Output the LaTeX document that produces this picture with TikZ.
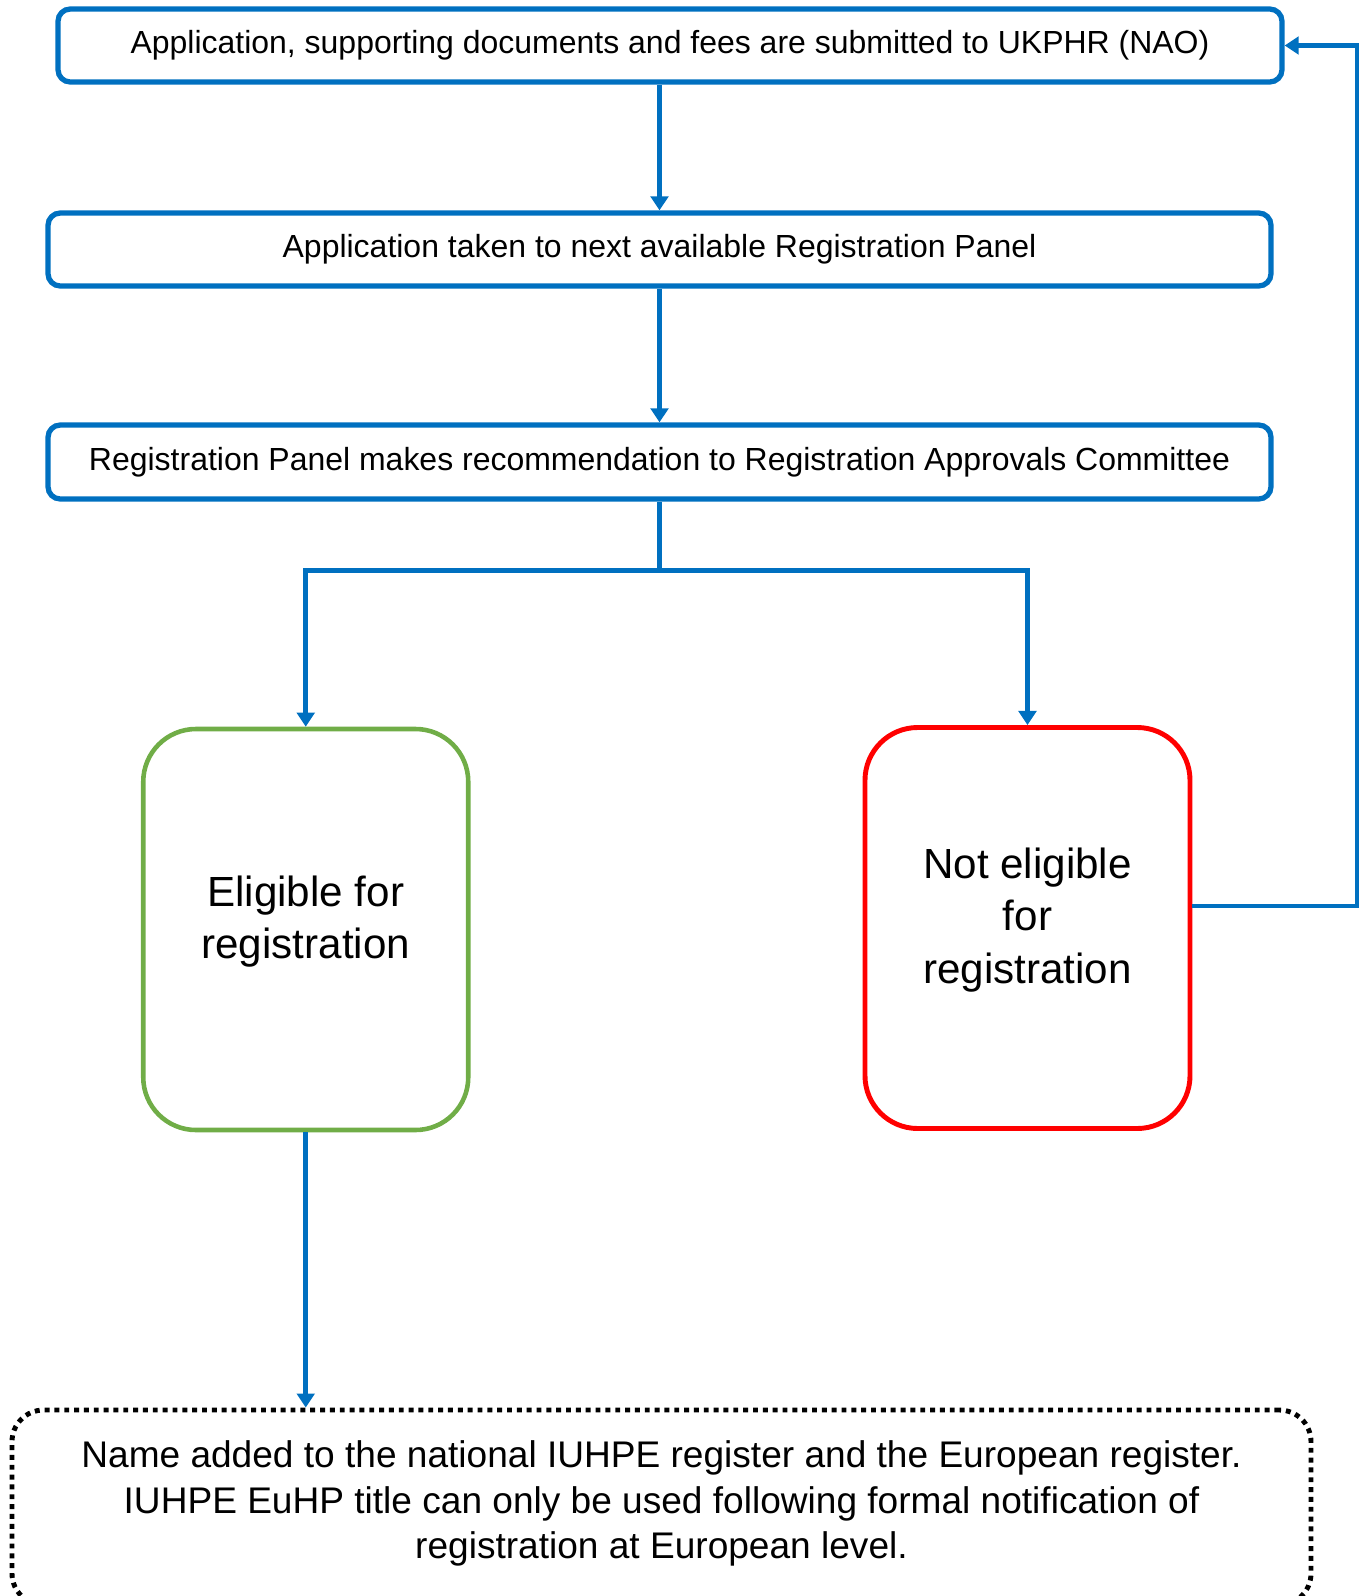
\documentclass[tikz,border=0pt]{standalone}
\usepackage{fontspec}
\setmainfont{Liberation Sans}
\usetikzlibrary{arrows.meta, calc}
\definecolor{flowblue}{HTML}{0070C0}
\definecolor{okgreen}{HTML}{70AD47}
\definecolor{nored}{HTML}{FF0000}

\begin{document}
\begin{tikzpicture}[x=0.02cm, y=-0.02cm,
	stage/.style={draw=flowblue, line width=3pt, rounded corners=7pt,
		font=\fontsize{18.2}{22}\selectfont, inner sep=0pt},
	outcome/.style={line width=2.6pt, rounded corners=30pt, align=center,
		minimum width={325*\px}, minimum height={401*\px},
		font=\fontsize{24}{30}\selectfont},
	flow/.style={draw=flowblue, line width=2.6pt, -{Triangle[length=8pt, width=10pt]}}]
	\def \px {0.02cm}

	\useasboundingbox (0,0) rectangle (1364,1596);

	\node[stage, minimum width={1224*\px}, minimum height={73*\px}] (submitted) at (670,45.5)
		{Application, supporting documents and fees are submitted to UKPHR (NAO)};
	\node[stage, minimum width={1223*\px}, minimum height={73*\px}] (panel) at (659.5,249.5)
		{Application taken to next available Registration Panel};
	\node[stage, minimum width={1223*\px}, minimum height={74*\px}] (recommend) at (659.5,462)
		{Registration Panel makes recommendation to Registration Approvals Committee};

	\node[outcome, draw=okgreen] (eligible) at (305.75,929.5)
		{Eligible for\\registration\\[-16pt]};
	\node[outcome, draw=nored, line width=2.8pt] (noteligible) at (1027.5,928)
		{Not eligible\\for\\registration\\[-16pt]};

	\node[draw, line width=2.8pt, dash pattern=on 2.8pt off 2.8pt, rounded corners=18pt,
		minimum width={1299*\px}, minimum height={195*\px}, align=center,
		font=\fontsize{21.1}{26}\selectfont] (register) at (661.5,1507.5)
		{Name added to the national IUHPE register and the European register.\\
		IUHPE EuHP title can only be used following formal notification of\\
		registration at European level.\\[-17pt]};

	\path (recommend.south) ++(0,69) coordinate (split);
	\coordinate (loop) at (1357,906);

	\draw[flow] (panel.north |- submitted.south) -- (panel.north);
	\draw[flow] (recommend.north |- panel.south) -- (recommend.north);
	\draw[flowblue, line width=2.6pt] (recommend.south) -- (split);
	\draw[flow] (split) -| (eligible.north);
	\draw[flow] (split) -| (noteligible.north);
	\draw[flow] (noteligible.east |- loop) -- (loop) |- (submitted.east);
	\draw[flow] (eligible.south) -- (eligible.south |- register.north);
\end{tikzpicture}
\end{document}
